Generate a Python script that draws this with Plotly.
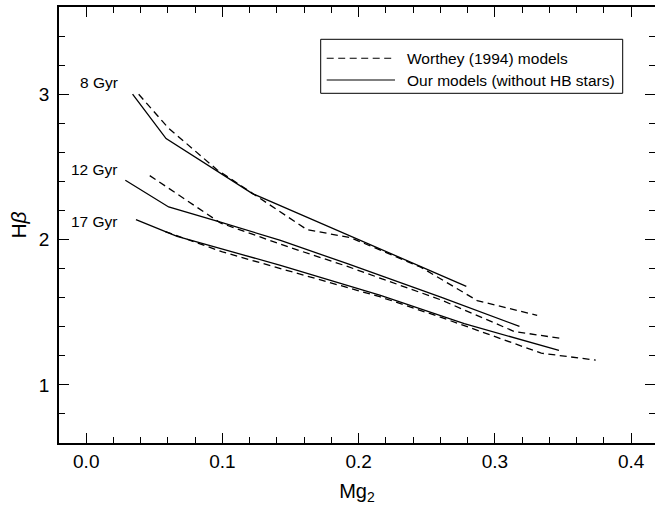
import plotly.graph_objects as go

# ---- data ----
w8_x = [0.0385, 0.060, 0.096, 0.130, 0.162, 0.194, 0.2456, 0.287, 0.331]
w8_y = [3.000, 2.770, 2.480, 2.270, 2.068, 2.013, 1.810, 1.580, 1.478]
o8_x = [0.034, 0.0586, 0.122, 0.279]
o8_y = [3.000, 2.695, 2.316, 1.678]

w12_x = [0.0466, 0.0985, 0.150, 0.1917, 0.2603, 0.314, 0.350]
w12_y = [2.440, 2.114, 1.944, 1.815, 1.585, 1.368, 1.317]
o12_x = [0.0287, 0.0605, 0.0985, 0.1426, 0.1917, 0.2603, 0.318]
o12_y = [2.408, 2.224, 2.120, 1.994, 1.834, 1.604, 1.402]

w17_x = [0.058, 0.100, 0.1426, 0.216, 0.260, 0.290, 0.334, 0.374]
w17_y = [2.055, 1.915, 1.800, 1.605, 1.466, 1.365, 1.218, 1.170]
o17_x = [0.0365, 0.0667, 0.1426, 0.216, 0.2775, 0.347]
o17_y = [2.137, 2.022, 1.822, 1.616, 1.421, 1.237]

age_labels = ["8 Gyr", "12 Gyr", "17 Gyr"]
age_label_y = [3.083, 2.483, 2.122]
legend_names = ["Worthey (1994) models", "Our models (without HB stars)"]

x_ticks = [0.0, 0.1, 0.2, 0.3, 0.4]
x_ticktext = ["0.0", "0.1", "0.2", "0.3", "0.4"]
y_ticks = [1, 2, 3]

# ---- layout geometry ----
W, H = 655, 508
ML, MR, MT, MB = 59, 0, 7, 65
PW, PH = W - ML - MR, H - MT - MB


def px_x(p):
    return (p - ML) / PW


def px_y(p):
    return (H - MB - p) / PH


FONT = "Liberation Sans, Arial, Helvetica, sans-serif"
dash = "7px,4.5px"

fig = go.Figure()
for xs, ys in [(w8_x, w8_y), (w12_x, w12_y), (w17_x, w17_y)]:
    fig.add_trace(go.Scatter(x=xs, y=ys, mode="lines", showlegend=False,
                             line=dict(color="black", width=1.3, dash=dash)))
for xs, ys in [(o8_x, o8_y), (o12_x, o12_y), (o17_x, o17_y)]:
    fig.add_trace(go.Scatter(x=xs, y=ys, mode="lines", showlegend=False,
                             line=dict(color="black", width=1.3)))
# empty trace so the right-hand tick axis is drawn
fig.add_trace(go.Scatter(x=[None], y=[None], yaxis="y2", mode="lines",
                         showlegend=False, hoverinfo="skip"))

for txt, yy in zip(age_labels, age_label_y):
    fig.add_annotation(x=0.0245, y=yy, text=txt, showarrow=False,
                       xanchor="right", yanchor="middle",
                       font=dict(family=FONT, size=15.5, color="black"))

# custom legend box
fig.add_shape(type="rect", xref="paper", yref="paper",
              x0=px_x(320.7), x1=px_x(622.7), y0=px_y(93.3), y1=px_y(39.3),
              line=dict(color="black", width=1), fillcolor="white", layer="above")
rows_y = [58.3, 80.0]
for i, (name, ry) in enumerate(zip(legend_names, rows_y)):
    fig.add_shape(type="line", xref="paper", yref="paper",
                  x0=px_x(326.7), x1=px_x(395), y0=px_y(ry), y1=px_y(ry),
                  line=dict(color="black", width=1.1, dash=dash if i == 0 else "solid"),
                  layer="above")
    fig.add_annotation(xref="paper", yref="paper", x=px_x(405), y=px_y(ry),
                       text=name, showarrow=False, xanchor="left", yanchor="middle",
                       font=dict(family=FONT, size=15.5, color="black"))

axis_common = dict(showgrid=False, zeroline=False, linecolor="black", linewidth=1.5,
                   ticks="inside", tickcolor="black", tickwidth=1.3,
                   tickfont=dict(family=FONT, size=19, color="black"))

fig.update_layout(
    width=W, height=H, margin=dict(l=ML, r=MR, t=MT, b=MB, pad=0),
    paper_bgcolor="white", plot_bgcolor="white", showlegend=False,
    xaxis=dict(range=[-0.02, 0.4175], tickvals=x_ticks, ticktext=x_ticktext,
               ticklen=10.5, showline=True, mirror="ticks",
               minor=dict(dtick=0.02, tick0=0, ticklen=6, ticks="inside",
                          tickcolor="black", tickwidth=1.3, showgrid=False),
               title=dict(text="Mg<sub>2</sub>", font=dict(family=FONT, size=20, color="black"),
                          standoff=13),
               **axis_common),
    yaxis=dict(range=[0.6, 3.6], tickvals=y_ticks, ticklen=10.5, showline=True,
               minor=dict(dtick=0.2, tick0=0, ticklen=6, ticks="inside",
                          tickcolor="black", tickwidth=1.3, showgrid=False),
               title=dict(text="H<i>\u03b2</i>", font=dict(family=FONT, size=21, color="black"),
                          standoff=7),
               ticklabelstandoff=4,
               **axis_common),
    yaxis2=dict(range=[0.6, 3.6], overlaying="y", side="right", tickvals=y_ticks,
                ticklen=10.5, showline=False, showticklabels=False,
                showgrid=False, zeroline=False, ticks="inside", tickcolor="black",
                tickwidth=1.3,
                minor=dict(dtick=0.2, tick0=0, ticklen=6, ticks="inside",
                           tickcolor="black", tickwidth=1.3, showgrid=False)),
)

fig.write_html("out.html")
